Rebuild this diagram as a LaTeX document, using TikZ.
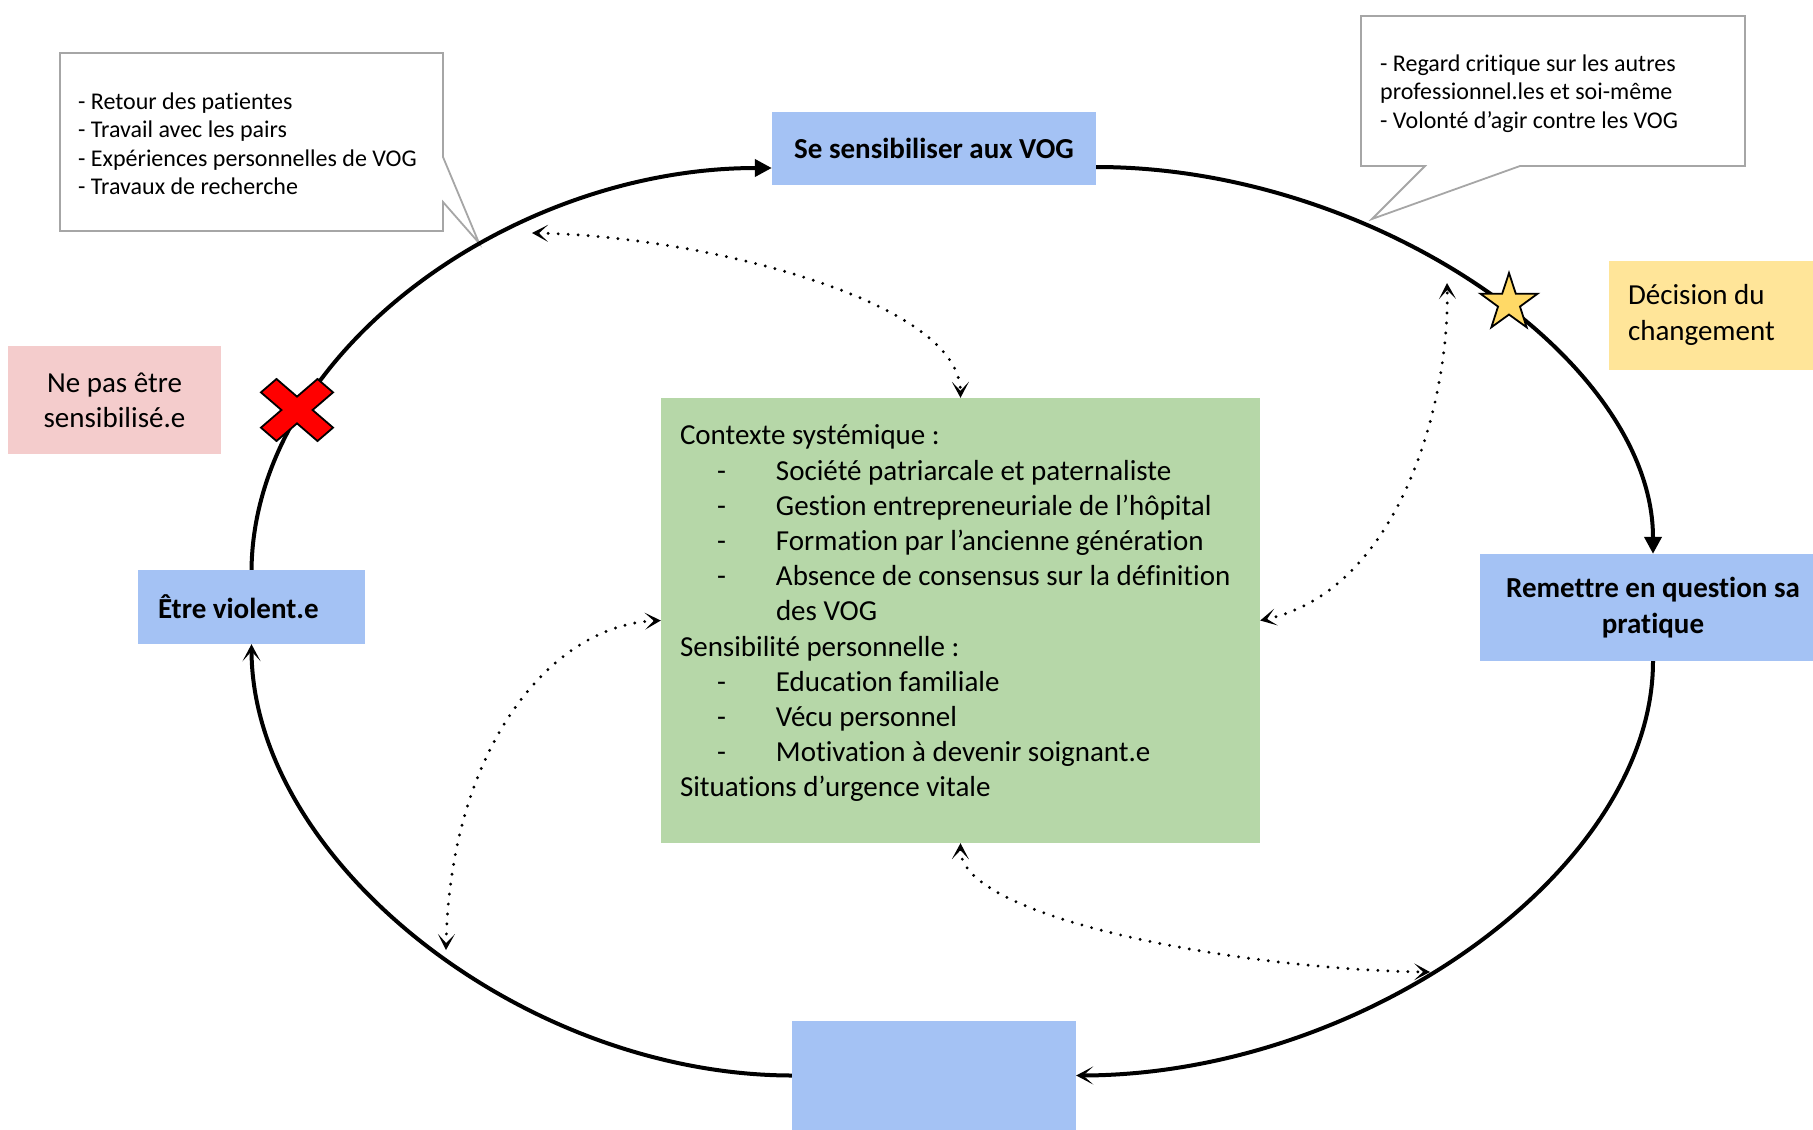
\documentclass[tikz,border=0pt]{standalone}
\usepackage{fontspec}
\setmainfont{Carlito}[Ligatures=NoCommon]
\usepackage{tikz}
\usetikzlibrary{shapes.geometric, arrows.meta, positioning}
\usepackage{xcolor}

\definecolor{bleuetape}{HTML}{A4C2F4}
\definecolor{vertcontexte}{HTML}{B6D7A8}
\definecolor{jaunedecision}{HTML}{FFE599}
\definecolor{roseechec}{HTML}{F4CCCC}
\definecolor{jauneetoile}{HTML}{FFD966}
\definecolor{rougecroix}{HTML}{FF0000}
\definecolor{grisbulle}{HTML}{A6A6A6}

\newcommand{\tiret}{\hspace*{37pt}\makebox[59pt][l]{-}}

\tikzset{
    etape/.style={fill=bleuetape, font=\fontsize{29}{35.2}\selectfont\bfseries, inner sep=0pt},
    etiquette/.style={inner sep=0pt, font=\fontsize{29}{35.2}\selectfont},
    fleche/.style={line width=4pt, -{Triangle[length=17pt, width=17pt]}},
    retour/.style={line width=4pt, -{Stealth[length=17pt, width=18pt, inset=10pt]}},
    lien/.style={line width=3.2pt, line cap=round, dash pattern=on 0pt off 10pt,
        {Stealth[length=16pt, width=17pt, inset=9pt]}-{Stealth[length=16pt, width=17pt, inset=9pt]}},
    bulle/.style={draw=grisbulle, line width=1.8pt, fill=white},
    textebulle/.style={font=\fontsize{24}{28.5}\selectfont, align=left, inner sep=0pt, anchor=west},
}

\begin{document}
\begin{tikzpicture}[x=1pt, y=-1pt]
    \useasboundingbox (0,0) rectangle (1813,1130);
    \clip (0,0) rectangle (1813,1130);

    % Draw the speech bubbles (tips point at the loop)
    \draw[bulle] (60,53) -- (443,53) -- (443,157) -- (479,243) -- (443,202) -- (443,231) -- (60,231) -- cycle;
    \draw[bulle] (1361,16) -- (1745,16) -- (1745,166) -- (1520,166) -- (1372,219) -- (1425,166) -- (1361,166) -- cycle;
    \node[textebulle] (sources) at (78,144) {- Retour des patientes\\- Travail avec les pairs\\- Expériences personnelles de VOG\\- Travaux de recherche};
    \node[textebulle] (regard) at (1380,93.5) {- Regard critique sur les autres\\professionnel.les et soi-même\\- Volonté d’agir contre les VOG};

    % Stages of the loop
    \node[etape, minimum width=324pt, minimum height=73pt] (sensibiliser) at (934,148.5) {Se sensibiliser aux VOG};
    \node[etape, minimum width=346pt, minimum height=107pt, align=center] (remettre) at (1653,607.5) {Remettre en question sa\\pratique};
    \node[etape, minimum width=284pt, minimum height=109pt] (bas) at (934,1075.5) {};
    \node[etape, minimum width=227pt, minimum height=74pt, text width=187pt, inner xsep=20pt, align=flush left] (violent) at (251.5,607) {Être violent.e};

    % Side labels
    \node[etiquette, fill=roseechec, minimum width=213pt, minimum height=108pt, align=center] (nonsensible) at (114.5,400) {Ne pas être\\sensibilisé.e};
    \node[etiquette, fill=jaunedecision, minimum width=221pt, minimum height=109pt, text width=183pt, inner xsep=19pt, align=flush left] (decision) at (1719.5,315) {Décision du\\changement};

    % Central box with the factors
    \node[fill=vertcontexte, minimum width=599pt, minimum height=445pt, inner sep=0pt] (contexte) at (960.5,620.5) {};
    \node[etiquette, anchor=west, align=left] (facteurs) at ([xshift=19pt, yshift=7pt]contexte.west) {Contexte systémique :\\
        \tiret Société patriarcale et paternaliste\\
        \tiret Gestion entrepreneuriale de l’hôpital\\
        \tiret Formation par l’ancienne génération\\
        \tiret Absence de consensus sur la définition\\
        \hspace*{96pt}des VOG\\
        Sensibilité personnelle :\\
        \tiret Education familiale\\
        \tiret Vécu personnel\\
        \tiret Motivation à devenir soignant.e\\
        Situations d’urgence vitale};

    % Draw the loop
    \draw[fleche] (violent.north) .. controls (254,352) and (512,168) .. ([yshift=-19.5pt]sensibiliser.west);
    \draw[fleche] ([yshift=-18.5pt]sensibiliser.east) .. controls (1374,167) and (1653,360) .. (remettre.north);
    \draw[retour] (remettre.south) .. controls (1653,869) and (1365,1075) .. (bas.east);
    \draw[retour] (bas.west) .. controls (522,1075) and (252,860) .. (violent.south);

    % Dotted links between the context and the loop
    \coordinate (lienhaut) at (532,233);
    \coordinate (liendroite) at (1447,283);
    \coordinate (liengauche) at (446,950);
    \coordinate (lienbas) at (1430,972);
    \draw[lien] (lienhaut) .. controls (700,236) and (960,300) .. (contexte.north);
    \draw[lien] (contexte.east) .. controls (1400,590) and (1450,400) .. (liendroite);
    \draw[lien] (contexte.west) .. controls (550,625) and (450,750) .. (liengauche);
    \draw[lien] (contexte.south) .. controls (960,920) and (1250,970) .. (lienbas);

    % Red cross on the loop
    \begin{scope}[shift={(297,410)}, yscale=0.86, rotate=45]
        \draw[fill=rougecroix, line width=1.8pt] (-11,-40) -- (11,-40) -- (11,-11) -- (40,-11) -- (40,11) -- (11,11)
            -- (11,40) -- (-11,40) -- (-11,11) -- (-40,11) -- (-40,-11) -- (-11,-11) -- cycle;
    \end{scope}

    % Star for the decision
    \node[star, star points=5, star point ratio=2.6, minimum size=60pt, inner sep=0pt, fill=jauneetoile, draw, line width=1.8pt] (etoile) at (1509,303) {};

\end{tikzpicture}
\end{document}
